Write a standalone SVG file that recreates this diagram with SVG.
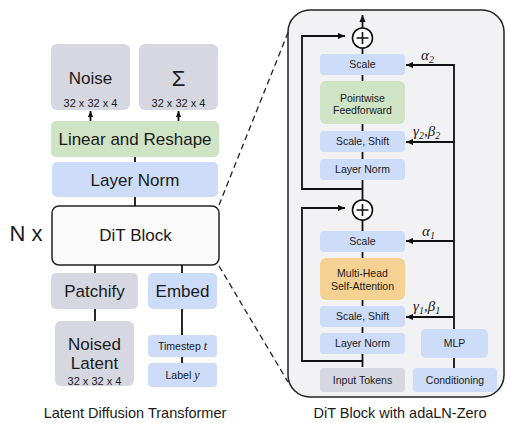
<svg xmlns="http://www.w3.org/2000/svg" width="507" height="423" viewBox="0 0 507 423">
  <defs>
    <marker id="ah" viewBox="0 0 8 8" refX="8" refY="4" markerWidth="7" markerHeight="7" orient="auto" markerUnits="userSpaceOnUse">
      <path d="M0,0.5 L8,4 L0,7.5 Z" fill="#111"/>
    </marker>
    <marker id="ahs" viewBox="0 0 8 8" refX="8" refY="4" markerWidth="6" markerHeight="6" orient="auto" markerUnits="userSpaceOnUse">
      <path d="M0,0.5 L8,4 L0,7.5 Z" fill="#111"/>
    </marker>
  </defs>
  <style>
    text { font-family: "Liberation Sans", Arial, sans-serif; fill: #1a1a1a; text-anchor: middle; }
    .gray { fill: #d6d7e1; }
    .blue { fill: #cddcf9; }
    .green { fill: #cfe3c5; }
    .orange { fill: #f5d294; }
    .big { font-size: 17px; }
    .dim { font-size: 11px; }
    .sm { font-size: 10.5px; }
    .cap { font-size: 14.5px; }
    .greek { font-family: "Liberation Serif", "Times New Roman", serif; font-style: italic; font-size: 15px; text-anchor: start; }
    .wire { fill: none; stroke: #111; stroke-width: 1.8; }
    .thin { fill: none; stroke: #111; stroke-width: 1.6; }
    .dash { fill: none; stroke: #222; stroke-width: 1.3; stroke-dasharray: 6 4; }
  </style>

  <!-- block panel background -->
  <rect id="panel" x="288" y="10" width="216" height="387" rx="22" fill="#f2f2f4" stroke="#222" stroke-width="1.5"/>

  <!-- ===== left: overall transformer ===== -->
  <g id="noise">
    <rect class="gray" x="51" y="44" width="79" height="66" rx="6"/>
    <text class="big" x="90.5" y="84">Noise</text>
    <text class="dim" x="90.5" y="107">32 x 32 x 4</text>
  </g>
  <g id="sigma">
    <rect class="gray" x="139" y="44" width="79" height="66" rx="6"/>
    <text x="178.5" y="86" font-size="22">Σ</text>
    <text class="dim" x="178.5" y="107">32 x 32 x 4</text>
  </g>
  <g id="linear-reshape">
    <rect class="green" x="51" y="121" width="168" height="36" rx="5"/>
    <text class="big" x="135" y="145">Linear and Reshape</text>
  </g>
  <g id="layer-norm-out">
    <rect class="blue" x="52" y="162" width="166" height="35" rx="5"/>
    <text class="big" x="135" y="185.5">Layer Norm</text>
  </g>
  <g id="dit-block">
    <rect x="52" y="206" width="167" height="59" rx="7" fill="#fafafa" stroke="#222" stroke-width="1.5"/>
    <text class="big" x="135.5" y="241">DiT Block</text>
  </g>
  <text x="26" y="241" font-size="22">N x</text>
  <g id="patchify">
    <rect class="gray" x="51" y="273" width="87" height="36" rx="5"/>
    <text class="big" x="94.5" y="297">Patchify</text>
  </g>
  <g id="embed">
    <rect class="blue" x="148" y="273" width="69" height="36" rx="5"/>
    <text class="big" x="182.5" y="297">Embed</text>
  </g>
  <g id="noised-latent">
    <rect class="gray" x="55" y="321" width="79" height="65" rx="6"/>
    <text class="big" x="94.5" y="350">Noised</text>
    <text class="big" x="94.5" y="369">Latent</text>
    <text class="dim" x="94.5" y="385">32 x 32 x 4</text>
  </g>
  <g id="timestep">
    <rect class="blue" x="148" y="335" width="69" height="22" rx="4"/>
    <text class="sm" x="182.5" y="350">Timestep <tspan font-family="Liberation Serif, serif" font-style="italic" font-size="12">t</tspan></text>
  </g>
  <g id="label">
    <rect class="blue" x="148" y="363" width="69" height="24" rx="4"/>
    <text class="sm" x="182.5" y="379">Label <tspan font-family="Liberation Serif, serif" font-style="italic" font-size="12">y</tspan></text>
  </g>
  <text class="cap" x="135" y="418">Latent Diffusion Transformer</text>

  <!-- ===== right: block internals ===== -->
  <g id="scale-2">
    <rect class="blue" x="320" y="54" width="85" height="21" rx="4"/>
    <text class="sm" x="362.5" y="68">Scale</text>
  </g>
  <g id="feedforward">
    <rect class="green" x="320" y="81" width="85" height="43" rx="6"/>
    <text class="sm" x="362.5" y="101.5">Pointwise</text>
    <text class="sm" x="362.5" y="114">Feedforward</text>
  </g>
  <g id="scale-shift-2">
    <rect class="blue" x="320" y="131" width="85" height="21" rx="4"/>
    <text class="sm" x="362.5" y="145">Scale, Shift</text>
  </g>
  <g id="layer-norm-2">
    <rect class="blue" x="320" y="159" width="85" height="21" rx="4"/>
    <text class="sm" x="362.5" y="173">Layer Norm</text>
  </g>
  <g id="scale-1">
    <rect class="blue" x="320" y="231" width="85" height="21" rx="4"/>
    <text class="sm" x="362.5" y="245">Scale</text>
  </g>
  <g id="attention">
    <rect class="orange" x="320" y="258" width="85" height="42" rx="6"/>
    <text class="sm" x="362.5" y="276.5">Multi-Head</text>
    <text class="sm" x="362.5" y="289.5">Self-Attention</text>
  </g>
  <g id="scale-shift-1">
    <rect class="blue" x="320" y="306" width="85" height="21" rx="4"/>
    <text class="sm" x="362.5" y="320">Scale, Shift</text>
  </g>
  <g id="layer-norm-1">
    <rect class="blue" x="320" y="333" width="85" height="21" rx="4"/>
    <text class="sm" x="362.5" y="347">Layer Norm</text>
  </g>
  <g id="input-tokens">
    <rect class="gray" x="320" y="368" width="85" height="24" rx="4"/>
    <text class="sm" x="362.5" y="384">Input Tokens</text>
  </g>
  <g id="mlp">
    <rect class="blue" x="421" y="329" width="67" height="29" rx="5"/>
    <text class="sm" x="454.5" y="347">MLP</text>
  </g>
  <g id="conditioning">
    <rect class="blue" x="413" y="368" width="84" height="24" rx="4"/>
    <text class="sm" x="455" y="384">Conditioning</text>
  </g>
  <g id="add-2">
    <circle cx="362.5" cy="38" r="10" fill="#fff" stroke="#111" stroke-width="1.6"/>
    <path class="thin" d="M356.5 38 H368.5 M362.5 32 V44"/>
  </g>
  <g id="add-1">
    <circle cx="362.5" cy="210" r="10" fill="#fff" stroke="#111" stroke-width="1.6"/>
    <path class="thin" d="M356.5 210 H368.5 M362.5 204 V216"/>
  </g>
  <text class="cap" x="400" y="418">DiT Block with adaLN-Zero</text>

  <!-- modulation labels -->
  <text class="greek" x="421" y="60">α<tspan font-size="10" dy="3">2</tspan></text>
  <text class="greek" x="413" y="136">γ<tspan font-size="10" dy="3">2</tspan><tspan dy="-3">,β</tspan><tspan font-size="10" dy="3">2</tspan></text>
  <text class="greek" x="422" y="236">α<tspan font-size="10" dy="3">1</tspan></text>
  <text class="greek" x="413" y="311">γ<tspan font-size="10" dy="3">1</tspan><tspan dy="-3">,β</tspan><tspan font-size="10" dy="3">1</tspan></text>

  <!-- connectors -->
  <g id="connectors">
    <!-- left column -->
    <path class="wire" d="M90.5 121 V111" marker-end="url(#ahs)"/>
    <path class="wire" d="M178.5 121 V111" marker-end="url(#ahs)"/>
    <path class="wire" d="M135 157 V162"/>
    <path class="wire" d="M135 197 V206"/>
    <path class="wire" d="M95 265 V273"/>
    <path class="wire" d="M182 265 V273"/>
    <path class="wire" d="M95 309 V321"/>
    <path class="wire" d="M182 309 V335"/>
    <path class="wire" d="M182 357 V363"/>

    <!-- zoom guides -->
    <path class="dash" d="M219 205 L289 30"/>
    <path class="dash" d="M219 266 L288 382"/>

    <!-- main path through block -->
    <path class="wire" d="M362.5 28 V15" marker-end="url(#ah)"/>
    <path class="wire" d="M362.5 48 V54"/>
    <path class="wire" d="M362.5 75 V81"/>
    <path class="wire" d="M362.5 124 V131"/>
    <path class="wire" d="M362.5 152 V159"/>
    <path class="wire" d="M362.5 180 V200"/>
    <path class="wire" d="M362.5 220 V231"/>
    <path class="wire" d="M362.5 252 V258"/>
    <path class="wire" d="M362.5 300 V306"/>
    <path class="wire" d="M362.5 327 V333"/>
    <path class="wire" d="M362.5 354 V367"/>

    <!-- residual skips -->
    <path class="wire" d="M362.5 189 H302 V36 H345" marker-end="url(#ah)"/>
    <path class="wire" d="M362.5 361 H302 V208 H345" marker-end="url(#ah)"/>

    <!-- conditioning branch -->
    <path class="wire" d="M454 368 V358"/>
    <path class="wire" d="M454 329 V65 H406" marker-end="url(#ah)"/>
    <path class="wire" d="M454 142 H406" marker-end="url(#ah)"/>
    <path class="wire" d="M454 241 H406" marker-end="url(#ah)"/>
    <path class="wire" d="M454 317 H406" marker-end="url(#ah)"/>
  </g>
</svg>
